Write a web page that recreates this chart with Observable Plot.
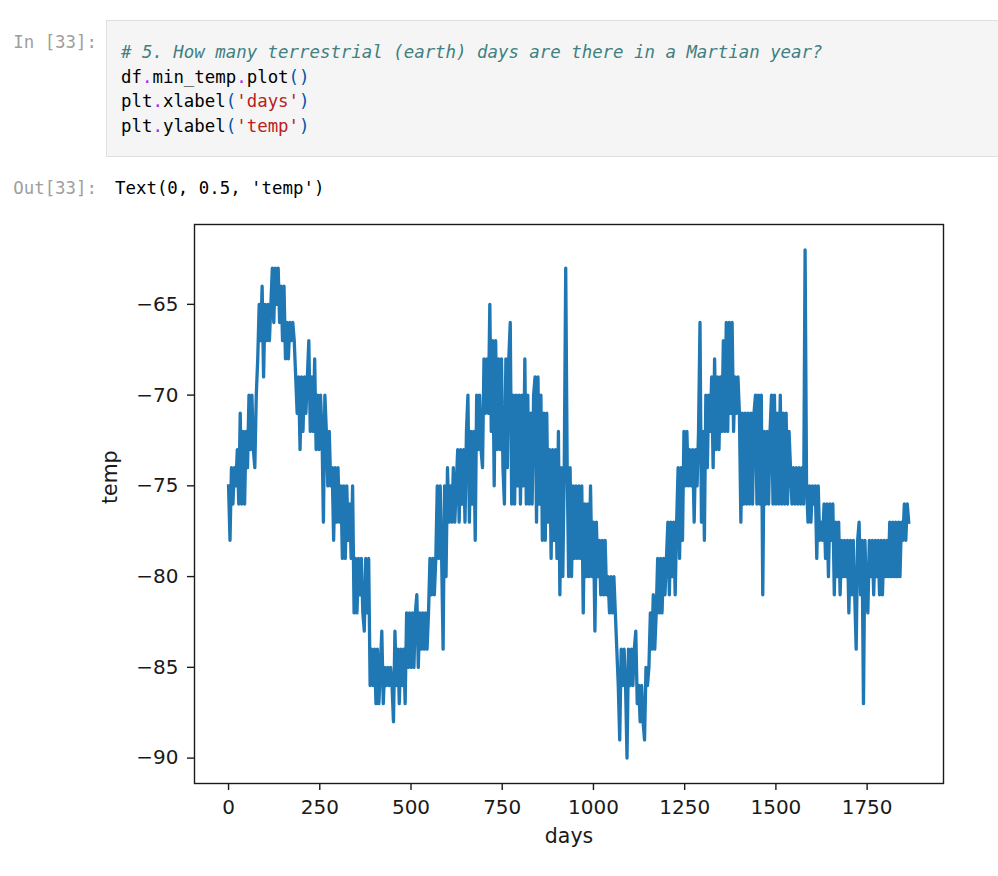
<!DOCTYPE html>
<html>
<head>
<meta charset="utf-8">
<script src="https://cdn.jsdelivr.net/npm/d3@7"></script>
<script src="https://cdn.jsdelivr.net/npm/@observablehq/plot@0.6"></script>
<style>
  html, body { margin: 0; padding: 0; background: #fff; }
  #wrap { position: relative; width: 998px; height: 876px; overflow: hidden; background: #fff; }
  .mono { font-family: "DejaVu Sans Mono", monospace; font-size: 17.4px; line-height: 24.7px; white-space: pre; position: absolute; }
  .prompt { color: #9e9e9e; text-align: right; width: 90px; left: 7px; }
  .cell { position: absolute; left: 106px; top: 20px; width: 900px; height: 137px; background: #f5f5f5; border: 1px solid #e0e0e0; box-sizing: border-box; }
  .cm { color: #408080; font-style: italic; }
  .op { color: #aa22ff; }
  .br { color: #0055aa; }
  .st { color: #ba2121; }
  #chart { position: absolute; left: 0; top: 210px; }
</style>
</head>
<body>
<div id="wrap">
  <div class="mono prompt" style="top:30px">In [33]:</div>
  <div class="cell"></div>
  <div class="mono" style="left:121px;top:40px;color:#000"><span class="cm"># 5. How many terrestrial (earth) days are there in a Martian year?</span>
df<span class="op">.</span>min_temp<span class="op">.</span>plot<span class="br">()</span>
plt<span class="op">.</span>xlabel<span class="br">(</span><span class="st">'days'</span><span class="br">)</span>
plt<span class="op">.</span>ylabel<span class="br">(</span><span class="st">'temp'</span><span class="br">)</span></div>
  <div class="mono prompt" style="top:176px">Out[33]:</div>
  <div class="mono" style="left:115px;top:176px;color:#000">Text(0, 0.5, 'temp')</div>
  <div id="chart"></div>
</div>
<script>
// Martian minimum temperature, one value every 4th row (days 0..1864)
const sampleStep = 4;
const minTempYearA = [
  -75,-78,-74,-76,-74,-75,-73,-76,-71,-76,-72,-76,-72,-74,-70,-73,-70,-73,-74,-70,-68,-65,-67,-64,-69,
  -65,-67,-65,-67,-65,-63,-66,-63,-65,-63,-66,-64,-67,-64,-68,-66,-68,-66,-67,-66,-67,-69,-71,-69,-73,
  -69,-72,-69,-71,-69,-67,-72,-69,-72,-68,-73,-70,-73,-70,-72,-77,-70,-72,-75,-72,-75,-74,-78,-74,-77,
  -74,-77,-75,-79,-75,-79,-75,-78,-76,-79,-75,-82,-79,-82,-79,-81,-79,-82,-83,-79,-82,-79,-86,-84,-86,
  -84,-87,-84,-87,-85,-83,-87,-85,-86,-85,-86,-85,-86,-88,-83,-86,-84,-87,-84,-86,-84,-87,-82,-85,-82,
  -85,-82,-85,-82,-81,-85,-82,-84,-82,-84,-82,-84,-82,-79,-81,-79,-81,-79,-75,-79,-75,-79,-84,-75,-80
];
const minTempYearB = [
  -74,-77,-75,-77,-74,-77,-75,-73,-77,-73,-76,-73,-77,-72,-70,-77,-72,-76,-72,-78,-70,-73,-70,-73,-74,
  -68,-71,-68,-71,-65,-72,-67,-75,-67,-73,-68,-73,-68,-74,-76,-68,-74,-68,-66,-76,-70,-76,-70,-75,-70,
  -76,-70,-75,-68,-76,-70,-76,-71,-76,-70,-69,-77,-69,-76,-70,-78,-71,-78,-71,-77,-73,-79,-73,-78,-73,
  -79,-72,-81,-74,-80,-74,-63,-74,-80,-74,-80,-75,-79,-75,-79,-75,-79,-75,-82,-76,-80,-76,-80,-75,-80,
  -77,-83,-77,-80,-78,-81,-78,-81,-78,-81,-80,-82,-80,-82,-80,-82,-84,-86,-89,-84,-86,-84,-86,-90,-84,
  -86,-84,-86,-84,-83,-87,-86,-88,-86,-88,-89,-85,-86,-85,-82,-84,-81,-84,-82,-79,-82,-79,-82,-79,-81
];
const minTempYearC = [
  -79,-77,-81,-77,-80,-77,-81,-77,-74,-79,-74,-78,-72,-75,-72,-75,-73,-75,-73,-77,-73,-75,-72,-66,-77,
  -72,-78,-70,-74,-70,-72,-69,-74,-68,-73,-69,-73,-69,-72,-67,-72,-66,-72,-66,-71,-66,-72,-69,-71,-69,
  -71,-77,-71,-76,-71,-76,-71,-76,-71,-76,-71,-70,-76,-70,-76,-70,-81,-72,-76,-72,-76,-72,-70,-76,-70,
  -76,-71,-76,-70,-76,-71,-76,-71,-76,-72,-74,-76,-74,-76,-74,-76,-74,-76,-74,-76,-62,-75,-77,-75,-77,
  -75,-76,-75,-79,-75,-78,-77,-78,-76,-79,-76,-80,-76,-78,-76,-81,-77,-80,-77,-81,-78,-80,-78,-80,-78,
  -82,-78,-81,-78,-81,-84,-78,-77,-81,-78,-87,-78,-81,-82,-78,-80,-78,-81,-78,-80,-78,-81,-78,-81,-78,
  -80,-78,-80,-77,-80,-77,-80,-77,-80,-77,-80,-77,-78,-76,-78,-76,-77
];
const xTicks = [0, 250, 500, 750, 1000, 1250, 1500, 1750];
const yTicks = [-90, -85, -80, -75, -70, -65];
const xLabel = "days";
const yLabel = "temp";

const temps = [...minTempYearA, ...minTempYearB, ...minTempYearC];
const data = temps.map((t, i) => ({day: i * sampleStep, temp: t}));

const font = "DejaVu Sans, sans-serif";
const chart = Plot.plot({
  width: 998,
  height: 666,
  marginLeft: 194,
  marginRight: 55,
  marginTop: 14,
  marginBottom: 93,
  style: {fontFamily: font, fontSize: "20px", color: "#1a1a1a", background: "transparent", overflow: "visible"},
  x: {domain: [-93.3, 1959.3]},
  y: {domain: [-91.4, -60.6]},
  marks: [
    Plot.line(data, {x: "day", y: "temp", stroke: "#1f77b4", strokeWidth: 3.3, strokeLinejoin: "round", strokeLinecap: "square"}),
    Plot.frame({stroke: "#1a1a1a", strokeWidth: 1.4}),
    Plot.axisX(xTicks, {tickSize: 7, tickPadding: 9, tickFormat: d3.format("d"), fontSize: 20, stroke: "#1a1a1a", strokeWidth: 1.4, label: null}),
    Plot.axisY(yTicks, {tickSize: 7, tickPadding: 9, tickFormat: d3.format("d"), fontSize: 20, stroke: "#1a1a1a", strokeWidth: 1.4, label: null}),
    Plot.text([xLabel], {text: d => d, frameAnchor: "bottom", dy: 59, fontSize: 20.5, fill: "#1a1a1a"}),
    Plot.text([yLabel], {text: d => d, frameAnchor: "left", rotate: -90, dx: -84, fontSize: 20.5, fill: "#1a1a1a"})
  ]
});
document.getElementById("chart").appendChild(chart);
</script>
</body>
</html>
